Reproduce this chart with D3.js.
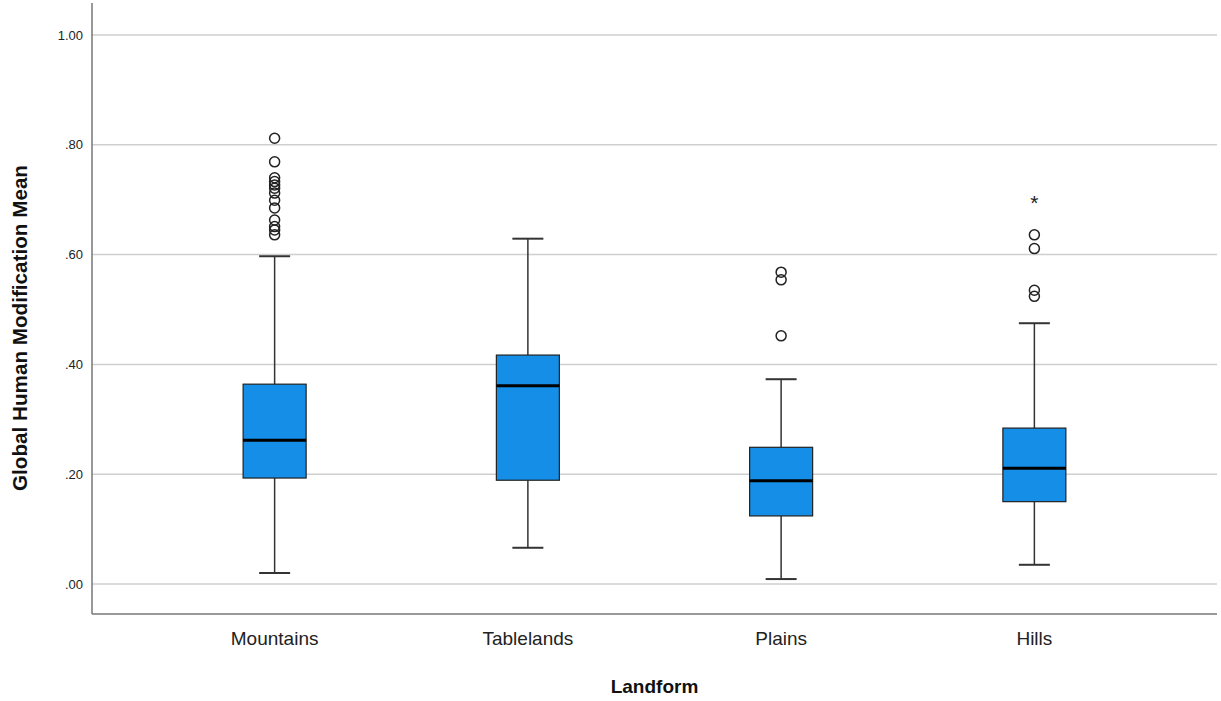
<!DOCTYPE html>
<html>
<head>
<meta charset="utf-8">
<script src="https://cdn.jsdelivr.net/npm/d3@7"></script>
<style>
  body { margin: 0; background: #fff; }
  text { font-family: "Liberation Sans", Arial, sans-serif; }
</style>
</head>
<body>
<div id="chart"></div>
<script>
var landforms = ["Mountains", "Tablelands", "Plains", "Hills"];
var whiskerLow  = [0.020, 0.066, 0.009, 0.035];
var q1          = [0.193, 0.189, 0.124, 0.150];
var median      = [0.262, 0.361, 0.188, 0.211];
var q3          = [0.364, 0.417, 0.249, 0.284];
var whiskerHigh = [0.597, 0.629, 0.373, 0.475];
var outliers = [
  [0.812, 0.769, 0.740, 0.733, 0.727, 0.721, 0.712, 0.699, 0.685, 0.663, 0.651, 0.645, 0.636],
  [],
  [0.568, 0.554, 0.452],
  [0.636, 0.611, 0.535, 0.524]
];
var extremes = [[], [], [], [0.699]];
var yTicks = [0, 0.2, 0.4, 0.6, 0.8, 1.0];

var width = 1221, height = 701;
var plotLeft = 92, plotRight = 1217, plotTop = 3, plotBottom = 614;

var svg = d3.select("#chart").append("svg")
  .attr("width", width)
  .attr("height", height);

var y = d3.scaleLinear().domain([0, 1]).range([584, 35]);
var x = d3.scaleBand().domain(landforms).range([148, 1161]);
var boxW = 63, capW = 31;

// gridlines
svg.selectAll(".grid").data(yTicks).enter().append("line")
  .attr("x1", plotLeft).attr("x2", plotRight)
  .attr("y1", function(d) { return y(d); })
  .attr("y2", function(d) { return y(d); })
  .attr("stroke", "#cfcfcf")
  .attr("stroke-width", 1.5);

// axis lines
svg.append("line")
  .attr("x1", plotLeft).attr("x2", plotLeft).attr("y1", plotTop).attr("y2", plotBottom)
  .attr("stroke", "#777").attr("stroke-width", 1.5);
svg.append("line")
  .attr("x1", plotLeft).attr("x2", plotRight).attr("y1", plotBottom).attr("y2", plotBottom)
  .attr("stroke", "#777").attr("stroke-width", 1.5);

// tick labels
function fmt(d) {
  var s = d3.format(".2f")(d);
  return s.charAt(0) === "0" ? s.slice(1) : s;
}
svg.selectAll(".ytick").data(yTicks).enter().append("text")
  .attr("x", 83)
  .attr("y", function(d) { return y(d); })
  .attr("dy", "0.35em")
  .attr("text-anchor", "end")
  .attr("font-size", 13)
  .attr("fill", "#222")
  .text(fmt);

svg.selectAll(".xtick").data(landforms).enter().append("text")
  .attr("x", function(d) { return x(d) + x.bandwidth() / 2; })
  .attr("y", 638)
  .attr("dy", "0.35em")
  .attr("text-anchor", "middle")
  .attr("font-size", 19)
  .attr("fill", "#222")
  .text(function(d) { return d; });

// axis titles
svg.append("text")
  .attr("x", (plotLeft + plotRight) / 2)
  .attr("y", 686)
  .attr("dy", "0.35em")
  .attr("text-anchor", "middle")
  .attr("font-size", 19)
  .attr("font-weight", "bold")
  .attr("fill", "#111")
  .text("Landform");

svg.append("text")
  .attr("transform", "translate(20,328) rotate(-90)")
  .attr("dy", "0.35em")
  .attr("text-anchor", "middle")
  .attr("font-size", 20)
  .attr("font-weight", "bold")
  .attr("fill", "#111")
  .attr("textLength", 326)
  .attr("lengthAdjust", "spacingAndGlyphs")
  .text("Global Human Modification Mean");

// boxes
var g = svg.selectAll(".box").data(landforms).enter().append("g")
  .attr("transform", function(d) { return "translate(" + (x(d) + x.bandwidth() / 2) + ",0)"; });

g.append("line")
  .attr("x1", 0).attr("x2", 0)
  .attr("y1", function(d, i) { return y(whiskerHigh[i]); })
  .attr("y2", function(d, i) { return y(q3[i]); })
  .attr("stroke", "#333").attr("stroke-width", 1.5);
g.append("line")
  .attr("x1", 0).attr("x2", 0)
  .attr("y1", function(d, i) { return y(q1[i]); })
  .attr("y2", function(d, i) { return y(whiskerLow[i]); })
  .attr("stroke", "#333").attr("stroke-width", 1.5);
g.append("line")
  .attr("x1", -capW / 2).attr("x2", capW / 2)
  .attr("y1", function(d, i) { return y(whiskerHigh[i]); })
  .attr("y2", function(d, i) { return y(whiskerHigh[i]); })
  .attr("stroke", "#333").attr("stroke-width", 2);
g.append("line")
  .attr("x1", -capW / 2).attr("x2", capW / 2)
  .attr("y1", function(d, i) { return y(whiskerLow[i]); })
  .attr("y2", function(d, i) { return y(whiskerLow[i]); })
  .attr("stroke", "#333").attr("stroke-width", 2);

g.append("rect")
  .attr("x", -boxW / 2)
  .attr("width", boxW)
  .attr("y", function(d, i) { return y(q3[i]); })
  .attr("height", function(d, i) { return y(q1[i]) - y(q3[i]); })
  .attr("fill", "#148ee6")
  .attr("stroke", "#222")
  .attr("stroke-width", 1.2);

g.append("line")
  .attr("x1", -boxW / 2).attr("x2", boxW / 2)
  .attr("y1", function(d, i) { return y(median[i]); })
  .attr("y2", function(d, i) { return y(median[i]); })
  .attr("stroke", "#000").attr("stroke-width", 3);

// outliers
g.each(function(d, i) {
  d3.select(this).selectAll("circle").data(outliers[i]).enter().append("circle")
    .attr("cx", 0)
    .attr("cy", function(v) { return y(v); })
    .attr("r", 5)
    .attr("fill", "none")
    .attr("stroke", "#222")
    .attr("stroke-width", 1.5);
  d3.select(this).selectAll(".ext").data(extremes[i]).enter().append("text")
    .attr("x", 0)
    .attr("y", function(v) { return y(v); })
    .attr("dy", "0.45em")
    .attr("text-anchor", "middle")
    .attr("font-size", 21)
    .attr("fill", "#222")
    .text("*");
});
</script>
</body>
</html>
